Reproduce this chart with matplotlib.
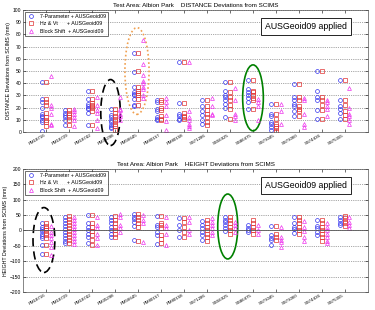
import matplotlib
matplotlib.use("Agg")
from matplotlib import pyplot as plt
from matplotlib.patches import Ellipse

plt.rcParams['font.family'] = ['Liberation Sans', 'DejaVu Sans']

stations = ["PM18716", "PM18729", "PM18742", "PM35298", "PM56645", "PM80157", "PM80158",
            "SS71286", "SS56925", "SS86475", "SS73045", "SS73060", "SS74436", "SS75355"]

series_labels = ["7-Parameter + AUSGeoid09", "Hz & Vt      + AUSGeoid09", "Block Shift  + AUSGeoid09"]

# DISTANCE deviations (mm), one list per station
dist_7par = [[41, 27, 25, 20, 15, 13, 12, 10, 8, 1], [18, 16, 14, 12, 10, 6],
             [34, 27, 23, 21, 20, 19, 16, 6], [19, 14, 12, 10, 8, 6, 4, 3],
             [65, 49, 37, 33, 31, 30, 27, 22, 21], [26, 25, 19, 17, 12, 11, 10],
             [57, 24, 15, 13, 11, 10], [26, 21, 17, 14, 10, 7],
             [41, 34, 30, 29, 26, 23, 20, 12], [43, 35, 33, 30, 28, 25, 19],
             [23, 15, 13, 8, 7, 4, 2], [39, 29, 26, 23, 21, 17, 13],
             [50, 34, 29, 26, 18, 11], [43, 26, 21, 19, 16, 11]]
dist_hzvt = [[41, 27, 25, 22, 16, 12, 10, 8, 5], [18, 16, 14, 12, 10, 6],
             [34, 27, 24, 22, 21, 20, 17, 6], [19, 16, 13, 11, 9, 7, 5, 2],
             [65, 50, 37, 34, 32, 30, 27, 22], [26, 25, 20, 18, 13, 11, 10],
             [57, 24, 16, 13, 12, 11], [26, 21, 18, 15, 12, 8, 6],
             [41, 33, 29, 26, 22, 19, 11], [43, 34, 33, 30, 28, 26, 19],
             [23, 15, 11, 7, 5, 3, 1], [39, 29, 26, 21, 19, 17, 13],
             [50, 29, 26, 22, 18, 11], [43, 26, 22, 17, 14, 11]]
dist_block = [[46, 22, 20, 15, 7, 6], [19, 17, 15, 12, 10, 5],
              [29, 22, 18, 16, 10, 3], [29, 19, 18, 15, 13, 10],
              [75, 56, 47, 42, 40, 37, 35, 30, 28], [28, 25, 21, 14, 9, 2],
              [57, 17, 12, 10, 7, 5, 3], [28, 21, 15, 14],
              [36, 26, 15, 13, 10], [27, 25, 21, 10],
              [23, 17, 7], [28, 26, 15, 7, 4],
              [26, 25, 21, 19, 13], [36, 20, 15, 13, 10, 7]]

# HEIGHT deviations (mm)
hgt_7par = [[23, 12, 4, -2, -11, -17, -26, -48, -76], [45, 35, 25, 15, 5, -5, -15, -25, -35, -40],
            [50, 23, 12, 1, -10, -21, -42], [45, 34, 23, 12, 1, -10, -21],
            [54, 45, 37, 28, 15, -32], [47, 17, 12, -4, -15, -45],
            [39, 17, 1, -21], [30, 17, 7, -4, -15, -32],
            [45, 34, 28, 17, 7, -2], [17, 9, 1, -4],
            [15, -15, -24, -32, -46], [45, 23, 12, 4, -7],
            [34, 15, 7, -4, -15], [45, 34, 23, 17]]
hgt_hzvt = [[23, 15, 7, 1, -7, -15, -26, -48, -76], [48, 38, 28, 18, 8, -2, -12, -22, -32, -42],
            [50, 23, 12, -2, -15, -32, -48], [48, 34, 23, 12, 1, -10, -20],
            [54, 45, 34, 23, 12, -35], [47, 23, 17, 7, -15, -29, -42],
            [39, 28, 12, -4, -21], [34, 23, 12, 1, -10, -21, -35],
            [45, 34, 23, 12, 1, -10], [34, 23, 12, 1, -10],
            [15, -10, -21, -32], [45, 34, 23, 12, 1, -10],
            [34, 23, 12, 1, -10, -21, -35], [48, 39, 30, 23, 15]]
hgt_block = [[15, -4, -15, -26, -39, -53, -80], [45, 35, 25, 15, 5, -5, -15, -25, -35, -45],
             [45, 17, 7, -10, -26, -48], [55, 45, 17, 7, -4],
             [50, 34, 23, -39], [45, 17, 7, -10, -48],
             [45, 28, 1, -10], [41, 28, 17, 7, -4, -15],
             [28, 17, 7, -4], [17, 1, -10],
             [12, -21, -32, -39, -53], [30, 12, -2, -21, -35],
             [23, 12, 1, -10, -21, -35, -42], [45, 28, 17, 9]]

# highlight ellipses: (centre station, centre value, width, height, colour, style)
dist_rings = [(3.8, 16, 0.85, 54, 'black', (0, (5, 3))),
              (4.95, 50, 1.05, 71, '#f0a050', (0, (1, 1.5))),
              (10.0, 28, 0.9, 54, 'green', '-')]
hgt_rings = [(0.9, -31, 0.95, 211, 'black', (0, (5, 3))),
             (8.9, 13, 0.87, 211, 'green', '-')]

colors = ['#3333ee', '#e03333', '#ee33ee']
markers = ['o', 's', '^']
offsets = [-0.2, 0.0, 0.2]


def draw_panel(ax, data, title, ylabel, ylim, yticks, rings):
    for k, series in enumerate(data):
        xs, ys = [], []
        for i, vals in enumerate(series):
            xs += [i + 1 + offsets[k]] * len(vals)
            ys += vals
        ax.plot(xs, ys, linestyle='none', marker=markers[k], markersize=2.8,
                markerfacecolor='none', markeredgecolor=colors[k],
                markeredgewidth=0.5, label=series_labels[k])
    for cx, cy, w, h, c, ls in rings:
        ax.add_patch(Ellipse((cx, cy), w, h, fill=False, edgecolor=c,
                             linestyle=ls, linewidth=1.2, clip_on=False))
    ax.set_xlim(0, 15)
    ax.set_ylim(*ylim)
    ax.set_yticks(yticks)
    ax.set_xticks(range(1, len(stations) + 1))
    ax.set_xticklabels(stations, rotation=30, ha='right', fontsize=3.2)
    ax.tick_params(axis='y', labelsize=3.6, length=2, width=0.4, direction='in',
                   right=True, pad=1.5)
    ax.tick_params(axis='x', length=2, width=0.4, direction='in', top=True, pad=1)
    ax.grid(axis='y', linestyle=':', color='#555555', linewidth=0.5)
    ax.set_axisbelow(True)
    for s in ax.spines.values():
        s.set_linewidth(0.5)
        s.set_color('#555555')
    ax.set_title(title, fontsize=4.5, pad=2)
    ax.set_ylabel(ylabel, fontsize=3.8, labelpad=1)
    leg = ax.legend(loc='upper left', fontsize=3.8, frameon=True, fancybox=False,
                    handletextpad=0.8, borderpad=0.45, labelspacing=0.45,
                    borderaxespad=0.3, handlelength=1.6)
    leg.get_frame().set_edgecolor('black')
    leg.get_frame().set_linewidth(0.5)
    ax.text(0.82, 0.865, "AUSGeoid09 applied", transform=ax.transAxes,
            fontsize=6.3, ha='center', va='center',
            bbox=dict(boxstyle='square,pad=0.45', facecolor='white',
                      edgecolor='black', linewidth=0.6))


fig = plt.figure(figsize=(3.75, 3.1), dpi=100)
ax1 = fig.add_axes([0.062, 0.574, 0.919, 0.394])
ax2 = fig.add_axes([0.062, 0.058, 0.919, 0.397])

draw_panel(ax1, [dist_7par, dist_hzvt, dist_block],
           "Test Area: Albion Park    DISTANCE Deviations from SCIMS",
           "DISTANCE Deviations from SCIMS (mm)", (0, 100), range(0, 101, 10), dist_rings)
draw_panel(ax2, [hgt_7par, hgt_hzvt, hgt_block],
           "Test Area: Albion Park    HEIGHT Deviations from SCIMS",
           "HEIGHT Deviations from SCIMS (mm)", (-200, 200), range(-200, 201, 50), hgt_rings)
ax2.axhline(0, color='#555555', linewidth=0.6)

fig.savefig("out.png", dpi=100)
